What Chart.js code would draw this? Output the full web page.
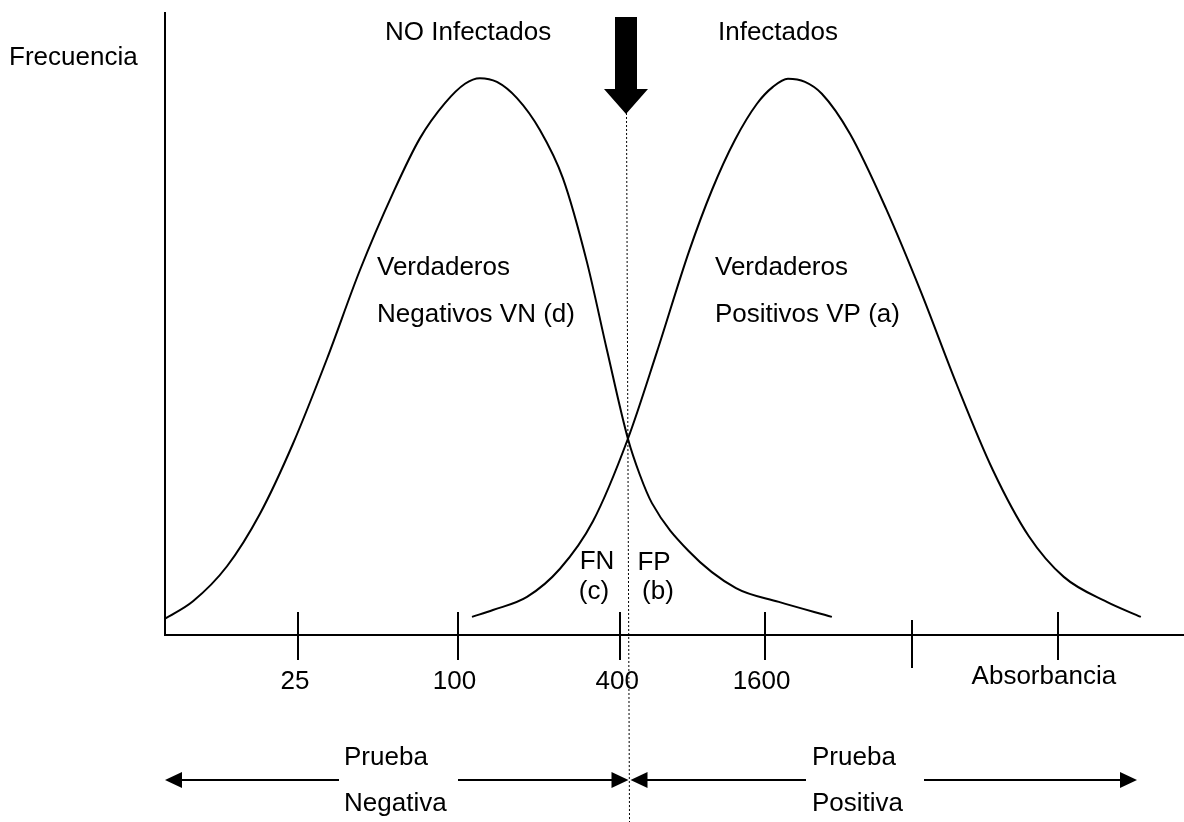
<!DOCTYPE html>
<html>
<head>
<meta charset="utf-8">
<script src="https://cdn.jsdelivr.net/npm/chart.js@4"></script>
<style>
  html, body { margin: 0; padding: 0; background: #fff; }
  #wrap { width: 1184px; height: 822px; }
</style>
</head>
<body>
<div id="wrap"><canvas id="chart" width="1184" height="822"></canvas></div>
<script>
// eje x: pasos de dilución (escala log4 de absorbancia), eje y: frecuencia relativa
const xMin = 0.125;
const xMax = 6.83;
const tickValues = [1, 2.05, 3.12, 4.07, 5.04, 6.0];
const tickLabels = ["25", "100", "400", "1600", "", ""];
const cutoff = 3.16; // punto de corte

// curva NO Infectados
const noInfX = [0.125, 0.309, 0.533, 0.75, 0.967, 1.191, 1.408, 1.625, 1.803, 1.967, 2.099, 2.197,
                2.309, 2.441, 2.592, 2.743, 2.901, 3.033, 3.171, 3.25, 3.329, 3.572, 3.882, 4.164, 4.513];
const noInfY = [2.6, 5.4, 11.0, 19.4, 30.6, 44.2, 58.4, 70.7, 79.5, 85.1, 88.2, 89.1,
                88.5, 85.9, 80.8, 73.1, 59.7, 45.6, 31.4, 25.6, 21.1, 13.4, 7.5, 5.3, 2.9];

// curva Infectados
const infX = [2.145, 2.283, 2.507, 2.724, 2.941, 3.171, 3.362, 3.572, 3.724, 3.875, 4.02, 4.125, 4.224,
              4.336, 4.447, 4.632, 4.868, 5.099, 5.336, 5.572, 5.809, 6.039, 6.322, 6.546];
const infY = [2.9, 4.0, 6.1, 10.6, 18.2, 31.4, 45.3, 61.3, 71.2, 79.2, 85.0, 87.7, 89.0,
              88.5, 86.6, 80.2, 68.3, 54.9, 40.0, 26.4, 15.8, 9.3, 5.3, 2.9];

const toPts = (xs, ys) => xs.map((x, i) => ({ x: x, y: ys[i] }));

const FONT = "26px 'Liberation Sans', Arial, sans-serif";

function arrowHead(ctx, tipX, y, dir) {
    // dir = 1 apunta a la derecha, -1 a la izquierda
    ctx.beginPath();
    ctx.moveTo(tipX, y);
    ctx.lineTo(tipX - dir * 17, y - 8);
    ctx.lineTo(tipX - dir * 17, y + 8);
    ctx.closePath();
    ctx.fill();
}

const decor = {
    id: "decor",
    afterDatasetsDraw(chart) {
        const ctx = chart.ctx;
        const xs = chart.scales.x;
        const ys = chart.scales.y;
        const area = chart.chartArea;
        const x0 = xs.getPixelForValue(xMin);
        const y0 = ys.getPixelForValue(0);
        const cx = Math.round(xs.getPixelForValue(cutoff)) + 0.5;

        ctx.save();
        ctx.strokeStyle = "#000";
        ctx.fillStyle = "#000";
        ctx.lineWidth = 2;

        // ejes
        ctx.beginPath();
        ctx.moveTo(x0, area.top + 2);
        ctx.lineTo(x0, y0);
        ctx.lineTo(area.right, y0);
        ctx.stroke();

        // marcas del eje x (cruzan el eje)
        tickValues.forEach((v, i) => {
            const px = Math.round(xs.getPixelForValue(v));
            const shift = i === 4 ? 8 : 0;
            ctx.beginPath();
            ctx.moveTo(px, y0 - 23 + shift);
            ctx.lineTo(px, y0 + 25 + shift);
            ctx.stroke();
        });

        ctx.font = FONT;
        ctx.textBaseline = "middle";
        ctx.textAlign = "center";
        tickValues.forEach((v, i) => {
            if (tickLabels[i]) ctx.fillText(tickLabels[i], xs.getPixelForValue(v) - 3, y0 + 47);
        });
        ctx.fillText("Absorbancia", xs.getPixelForValue(tickValues[5]) - 14, y0 + 42);

        // línea de corte punteada
        ctx.lineWidth = 1;
        ctx.setLineDash([2, 2]);
        ctx.beginPath();
        ctx.moveTo(cx, 113);
        ctx.lineTo(cx + 3, chart.height);
        ctx.stroke();
        ctx.setLineDash([]);

        // flecha gruesa arriba
        const ax = cx - 0.5;
        ctx.beginPath();
        ctx.moveTo(ax - 11, 17);
        ctx.lineTo(ax + 11, 17);
        ctx.lineTo(ax + 11, 89);
        ctx.lineTo(ax + 22, 89);
        ctx.lineTo(ax, 114);
        ctx.lineTo(ax - 22, 89);
        ctx.lineTo(ax - 11, 89);
        ctx.closePath();
        ctx.fill();

        // flechas inferiores
        const ay = 780;
        const bx = cx + 3;
        ctx.lineWidth = 2;
        ctx.beginPath();
        ctx.moveTo(x0 + 10, ay); ctx.lineTo(339, ay);
        ctx.moveTo(458, ay); ctx.lineTo(bx - 10, ay);
        ctx.moveTo(bx + 10, ay); ctx.lineTo(806, ay);
        ctx.moveTo(924, ay); ctx.lineTo(1127, ay);
        ctx.stroke();
        arrowHead(ctx, x0, ay, -1);
        arrowHead(ctx, bx - 1, ay, 1);
        arrowHead(ctx, bx + 1, ay, -1);
        arrowHead(ctx, 1137, ay, 1);

        // textos
        ctx.textAlign = "left";
        ctx.fillText("Frecuencia", 9, 58);
        ctx.fillText("NO Infectados", 385, 33);
        ctx.fillText("Infectados", 718, 33);
        ctx.fillText("Verdaderos", 377, 268);
        ctx.fillText("Negativos VN (d)", 377, 315);
        ctx.fillText("Verdaderos", 715, 268);
        ctx.fillText("Positivos VP (a)", 715, 315);
        ctx.fillText("Prueba", 344, 758);
        ctx.fillText("Negativa", 344, 804);
        ctx.fillText("Prueba", 812, 758);
        ctx.fillText("Positiva", 812, 804);
        ctx.textAlign = "center";
        ctx.fillText("FN", 597, 562);
        ctx.fillText("(c)", 594, 592);
        ctx.fillText("FP", 654, 563);
        ctx.fillText("(b)", 658, 592);
        ctx.restore();
    },
};

new Chart(document.getElementById("chart"), {
    type: "line",
    data: {
        datasets: [
            {
                label: "NO Infectados",
                data: toPts(noInfX, noInfY),
                borderColor: "#000",
                borderWidth: 2,
                pointRadius: 0,
                cubicInterpolationMode: "monotone",
                fill: false,
            },
            {
                label: "Infectados",
                data: toPts(infX, infY),
                borderColor: "#000",
                borderWidth: 2,
                pointRadius: 0,
                cubicInterpolationMode: "monotone",
                fill: false,
            },
        ],
    },
    options: {
        responsive: false,
        animation: false,
        layout: { padding: { left: 165, top: 10, right: 0, bottom: 187 } },
        scales: {
            x: { type: "linear", min: xMin, max: xMax, display: false },
            y: { min: 0, max: 100, display: false },
        },
        plugins: {
            legend: { display: false },
            tooltip: { enabled: false },
        },
    },
    plugins: [decor],
});
</script>
</body>
</html>
